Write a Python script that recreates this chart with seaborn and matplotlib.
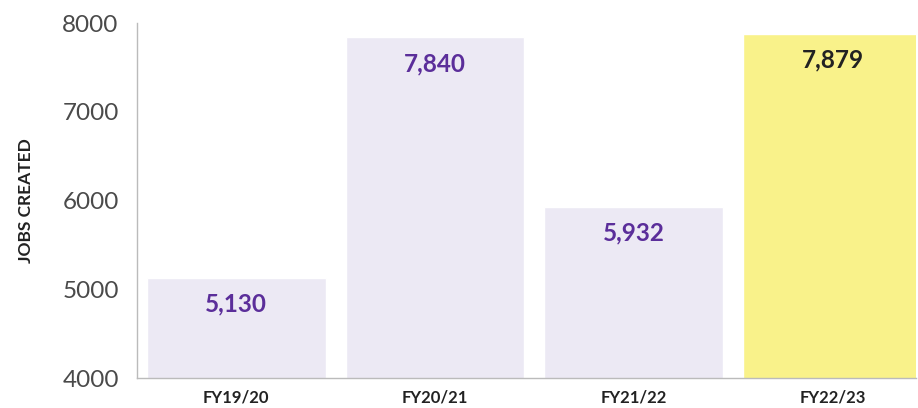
import numpy as np
import pandas as pd
import matplotlib
matplotlib.use("Agg")
import matplotlib.pyplot as plt
import seaborn as sns

# data
years = ["FY19/20", "FY20/21", "FY21/22", "FY22/23"]
jobs = [5130, 7840, 5932, 7879]
bar_colors = ["#ECE9F4", "#ECE9F4", "#ECE9F4", "#F9F28A"]
label_colors = ["#5B2E9A", "#5B2E9A", "#5B2E9A", "#222222"]

sns.set_style("white")
plt.rcParams["font.family"] = ["Lato", "DejaVu Sans"]

df = pd.DataFrame({"year": years, "jobs": jobs})

fig = plt.figure(figsize=(9.18, 4.08), dpi=100)
ax = fig.add_axes([0.149, 0.0735, 0.849, 0.870])

sns.barplot(data=df, x="year", y="jobs", hue="year", palette=bar_colors,
            width=0.9, legend=False, ax=ax, saturation=1)

ax.set_ylim(4000, 8000)
ax.set_xlim(-0.5, 3.42)
ax.set_yticks([4000, 5000, 6000, 7000, 8000])

# value labels just under the bar tops
for i, v in enumerate(jobs):
    ax.annotate(f"{v:,}", xy=(i, v), xytext=(0, -19), textcoords="offset points",
                ha="center", va="center", fontsize=17.5, fontweight="bold",
                color=label_colors[i])

ax.set_xlabel("")
ax.set_ylabel("JOBS CREATED", fontsize=12.5, fontweight="bold", color="#222222", labelpad=20)
ax.tick_params(axis="y", length=0, labelsize=17.5, labelcolor="#4A4A4A", pad=13)
ax.tick_params(axis="x", length=0, labelsize=12, labelcolor="#222222", pad=8)
for lbl in ax.get_xticklabels():
    lbl.set_fontweight("bold")

sns.despine(ax=ax, top=True, right=True)
ax.spines["left"].set_color("#BBBBBB")
ax.spines["bottom"].set_color("#BBBBBB")
ax.spines["left"].set_linewidth(1)
ax.spines["bottom"].set_linewidth(1)

fig.savefig("out.png", dpi=100)
